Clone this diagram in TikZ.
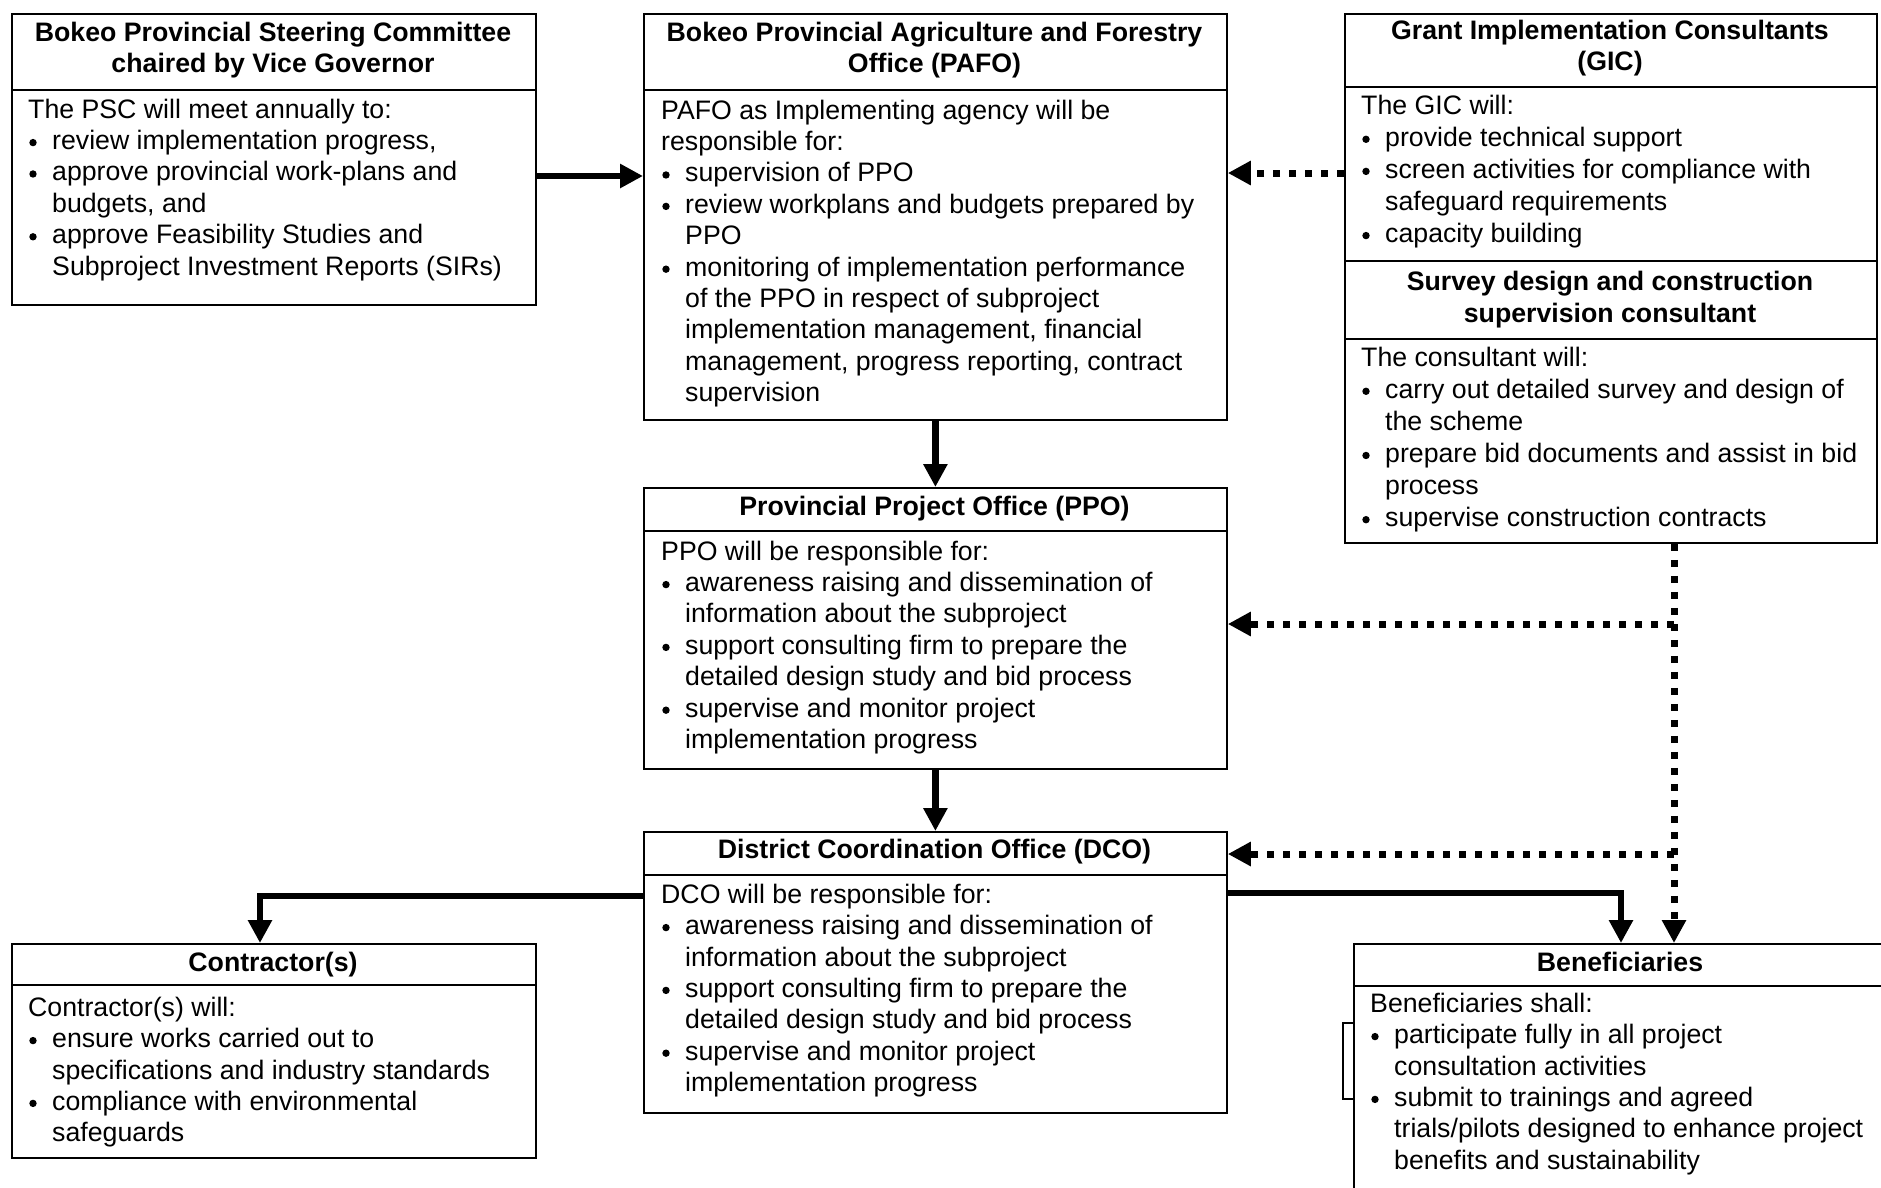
\documentclass[tikz,border=0pt]{standalone}
\usepackage{fontspec}
\setmainfont{Liberation Sans}
\usetikzlibrary{arrows.meta,calc}
\newcommand\fsz{\fontsize{26.7pt}{31.4pt}\selectfont}
\newcommand\fszw{\fontsize{26.7pt}{32.1pt}\selectfont}
\newcommand\bul{\makebox[24pt]{}}
\newcommand\cnt{\makebox[24pt]{}}
\tikzset{
  box/.style={draw, line width=1.8pt, inner sep=0pt, anchor=north west},
  divline/.style={line width=1.8pt},
  body/.style={font=\fsz, align=left, inner sep=0pt, anchor=north west},
  bodyw/.style={font=\fszw, align=left, inner sep=0pt, anchor=north west},
  ttl/.style={font=\fsz\bfseries, align=center, inner sep=0pt, anchor=north},
  ttlw/.style={font=\fszw\bfseries, align=center, inner sep=0pt, anchor=north},
  dotmark/.style={fill=black},
  solidarrow/.style={line width=6.5pt, -{Triangle[length=23pt,width=23pt]}},
  dotarrow/.style={line width=7pt, dash pattern=on 7pt off 9pt, -{Triangle[length=23pt,width=23pt]}}
}
\begin{document}
\begin{tikzpicture}[x=1pt,y=-1pt]
\useasboundingbox (0,0) rectangle (1881,1187);
\fill[white] (0,0) rectangle (1881,1187);
\clip (0,0) rectangle (1881,1187);

% boxes
\node[box, minimum width=524pt, minimum height=291pt] (psc) at (11,13) {};
\node[box, minimum width=583pt, minimum height=406pt] (pafo) at (643,13) {};
\node[box, minimum width=532pt, minimum height=247pt] (gic) at (1344,13) {};
\node[box, minimum width=532pt, minimum height=282pt] (sdc) at (1344,260) {};
\node[box, minimum width=583pt, minimum height=281pt] (ppo) at (643,487) {};
\node[box, minimum width=583pt, minimum height=281pt] (dco) at (643,831) {};
\node[box, minimum width=524pt, minimum height=214pt] (con) at (11,943) {};
\node[box, minimum width=534pt, minimum height=300pt] (ben) at (1353,943) {};

% header dividers
\foreach \n/\yy in {psc/90, pafo/90, gic/87, sdc/339, ppo/531, dco/875, con/985, ben/986}
  \draw[divline] (\n.west |- 0,\yy) -- (\n.east |- 0,\yy);

% small bracket left of Beneficiaries
\draw[line width=1.5pt] (ben.west |- 0,1023) -- ++(-10,0) |- (ben.west |- 0,1099);

% titles
\node[ttl] (pscT) at (273,19) {\strut Bokeo Provincial Steering Committee\\chaired by Vice Governor};
\node[ttl] (pafoT) at (934.5,19) {\strut Bokeo Provincial Agriculture and Forestry\\Office (PAFO)};
\node[ttl] (gicT) at (1610,17) {\strut Grant Implementation Consultants\\(GIC)};
\node[ttlw] (sdcT) at (1610,267.5) {\strut Survey design and construction\\supervision consultant};
\node[ttl] (ppoT) at (934.5,493) {\strut Provincial Project Office (PPO)};
\node[ttl] (dcoT) at (934.5,836) {\strut District Coordination Office (DCO)};
\node[ttl] (conT) at (273,949) {\strut Contractor(s)};
\node[ttl] (benT) at (1620,949) {\strut Beneficiaries};

% bodies
\node[body] (pscB) at (28,96) {\strut The PSC will meet annually to:\\
\bul review implementation progress,\\
\bul approve provincial work-plans and\\
\cnt budgets, and\\
\bul approve Feasibility Studies and\\
\cnt Subproject Investment Reports (SIRs)};

\node[body] (pafoB) at (661,97) {\strut PAFO as Implementing agency will be\\
responsible for:\\
\bul supervision of PPO\\
\bul review workplans and budgets prepared by\\
\cnt PPO\\
\bul monitoring of implementation performance\\
\cnt of the PPO in respect of subproject\\
\cnt implementation management, financial\\
\cnt management, progress reporting, contract\\
\cnt supervision};

\node[bodyw] (gicB) at (1361,91.5) {\strut The GIC will:\\
\bul provide technical support\\
\bul screen activities for compliance with\\
\cnt safeguard requirements\\
\bul capacity building};

\node[bodyw] (sdcB) at (1361,343.5) {\strut The consultant will:\\
\bul carry out detailed survey and design of\\
\cnt the scheme\\
\bul prepare bid documents and assist in bid\\
\cnt process\\
\bul supervise construction contracts};

\node[body] (ppoB) at (661,538) {\strut PPO will be responsible for:\\
\bul awareness raising and dissemination of\\
\cnt information about the subproject\\
\bul support consulting firm to prepare the\\
\cnt detailed design study and bid process\\
\bul supervise and monitor project\\
\cnt implementation progress};

\node[body] (dcoB) at (661,881) {\strut DCO will be responsible for:\\
\bul awareness raising and dissemination of\\
\cnt information about the subproject\\
\bul support consulting firm to prepare the\\
\cnt detailed design study and bid process\\
\bul supervise and monitor project\\
\cnt implementation progress};

\node[body] (conB) at (28,994) {\strut Contractor(s) will:\\
\bul ensure works carried out to\\
\cnt specifications and industry standards\\
\bul compliance with environmental\\
\cnt safeguards};

\node[body] (benB) at (1370,990) {\strut Beneficiaries shall:\\
\bul participate fully in all project\\
\cnt consultation activities\\
\bul submit to trainings and agreed\\
\cnt trials/pilots designed to enhance project\\
\cnt benefits and sustainability};

% bullet dots (centre 5pt right of the text margin, 6.8pt above the baseline)
\foreach \k in {1,2,4} \fill[dotmark] ($(pscB.north west)+(5,15.18+31.4*\k)$) circle[radius=3.7pt];
\foreach \k in {2,3,5} \fill[dotmark] ($(pafoB.north west)+(5,15.18+31.4*\k)$) circle[radius=3.7pt];
\foreach \k in {1,2,4} \fill[dotmark] ($(gicB.north west)+(5,15.67+32.1*\k)$) circle[radius=3.7pt];
\foreach \k in {1,3,5} \fill[dotmark] ($(sdcB.north west)+(5,15.67+32.1*\k)$) circle[radius=3.7pt];
\foreach \k in {1,3,5} \fill[dotmark] ($(ppoB.north west)+(5,15.18+31.4*\k)$) circle[radius=3.7pt];
\foreach \k in {1,3,5} \fill[dotmark] ($(dcoB.north west)+(5,15.18+31.4*\k)$) circle[radius=3.7pt];
\foreach \k in {1,3} \fill[dotmark] ($(conB.north west)+(5,15.18+31.4*\k)$) circle[radius=3.7pt];
\foreach \k in {1,3} \fill[dotmark] ($(benB.north west)+(5,15.18+31.4*\k)$) circle[radius=3.7pt];

% connectors
\coordinate (yA) at (0,176);
\coordinate (yB) at (0,173);
\coordinate (yC) at (0,624);
\coordinate (yD) at (0,854);
\coordinate (yE) at (0,896);
\coordinate (yF) at (0,893);
\coordinate (dvx) at (1674,0);
\coordinate (cxx) at (260,0);
\coordinate (bxx) at (1621,0);

\draw[solidarrow] (psc.east |- yA) -- (pafo.west |- yA);
\draw[dotarrow] (gic.west |- yB) -- (pafo.east |- yB);
\draw[solidarrow] (pafo.south) -- (ppo.north);
\draw[solidarrow] (ppo.south) -- (dco.north);
\draw[dotarrow] (sdc.south -| dvx) -- (ben.north -| dvx);
\draw[dotarrow] (dvx |- yC) -- (ppo.east |- yC);
\draw[dotarrow] (dvx |- yD) -- (dco.east |- yD);
\draw[solidarrow] (dco.west |- yE) -| (con.north -| cxx);
\draw[solidarrow] (dco.east |- yF) -| (ben.north -| bxx);
\end{tikzpicture}
\end{document}
